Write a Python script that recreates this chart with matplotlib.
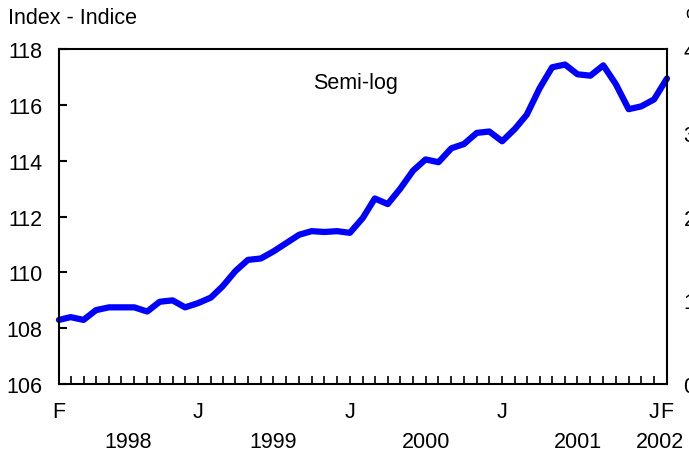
from matplotlib import pyplot as plt
import matplotlib.dates as mdates
import pandas as pd

plt.rcParams['font.family'] = ['Liberation Sans', 'DejaVu Sans']

# monthly index, Feb 1998 - Feb 2002 (semi-log scale)
months = pd.date_range('1998-02-01', periods=49, freq='MS')
index_vals = [108.3, 108.4, 108.3, 108.65, 108.75, 108.75, 108.75, 108.6, 108.95, 109.0,
              108.75, 108.9, 109.1, 109.5, 110.05, 110.45, 110.5, 110.75, 111.05, 111.35,
              111.48, 111.45, 111.48, 111.42, 111.95, 112.65, 112.45, 113.0, 113.65, 114.05,
              113.95, 114.45, 114.6, 115.0, 115.05, 114.7, 115.15, 115.65, 116.6, 117.35,
              117.45, 117.1, 117.05, 117.42, 116.75, 115.85, 115.95, 116.2, 116.95]

tick_dates = ['1998-02-01', '1999-01-01', '2000-01-01', '2001-01-01', '2002-01-01', '2002-02-01']
tick_labels = ['F', 'J', 'J', 'J', 'J', 'F']
year_pos = ['1998-07-16', '1999-07-01', '2000-07-01', '2001-07-01', '2002-01-16']
year_labels = ['1998', '1999', '2000', '2001', '2002']
right_ticks = [0, 1, 2, 3, 4]

fs = 15.5

fig = plt.figure(figsize=(6.89, 4.52), dpi=100)
ax = fig.add_axes([0.0856, 0.148, 0.8824, 0.741])

ax.plot(months, index_vals, color='#0000ff', lw=4.5, solid_joinstyle='round', solid_capstyle='round', clip_on=False)
ax.set_xlim(months[0], months[-1])
ax.set_ylim(106, 118)
ax.set_yticks([106, 108, 110, 112, 114, 116, 118])

ax.set_xticks(pd.to_datetime(tick_dates))
ax.set_xticklabels(tick_labels)
ax.xaxis.set_minor_locator(mdates.MonthLocator())
ax.tick_params(axis='x', which='both', direction='in', length=6, width=1.2, pad=12, labelsize=fs)
ax.tick_params(axis='y', direction='in', length=6, width=1.5, pad=12, labelsize=fs)
for s in ax.spines.values():
    s.set_linewidth(1.5)

for d, lab in zip(year_pos, year_labels):
    ax.annotate(lab, xy=(pd.Timestamp(d), 0), xycoords=('data', 'axes fraction'),
                xytext=(0, -41), textcoords='offset points', ha='center', va='center', fontsize=fs)

ax2 = ax.twinx()
ax2.set_ylim(0, 4)
ax2.set_yticks(right_ticks)
ax2.tick_params(axis='y', length=0, pad=12, labelsize=fs)
for s in ax2.spines.values():
    s.set_visible(False)

ax.text(0.487, 0.9, 'Semi-log', transform=ax.transAxes, ha='center', va='center', fontsize=fs)
fig.text(0.012, 0.96, 'Index - Indice', ha='left', va='center', fontsize=fs)
fig.text(0.994, 0.96, '%', ha='left', va='center', fontsize=fs)

plt.savefig('out.png', dpi=100)
